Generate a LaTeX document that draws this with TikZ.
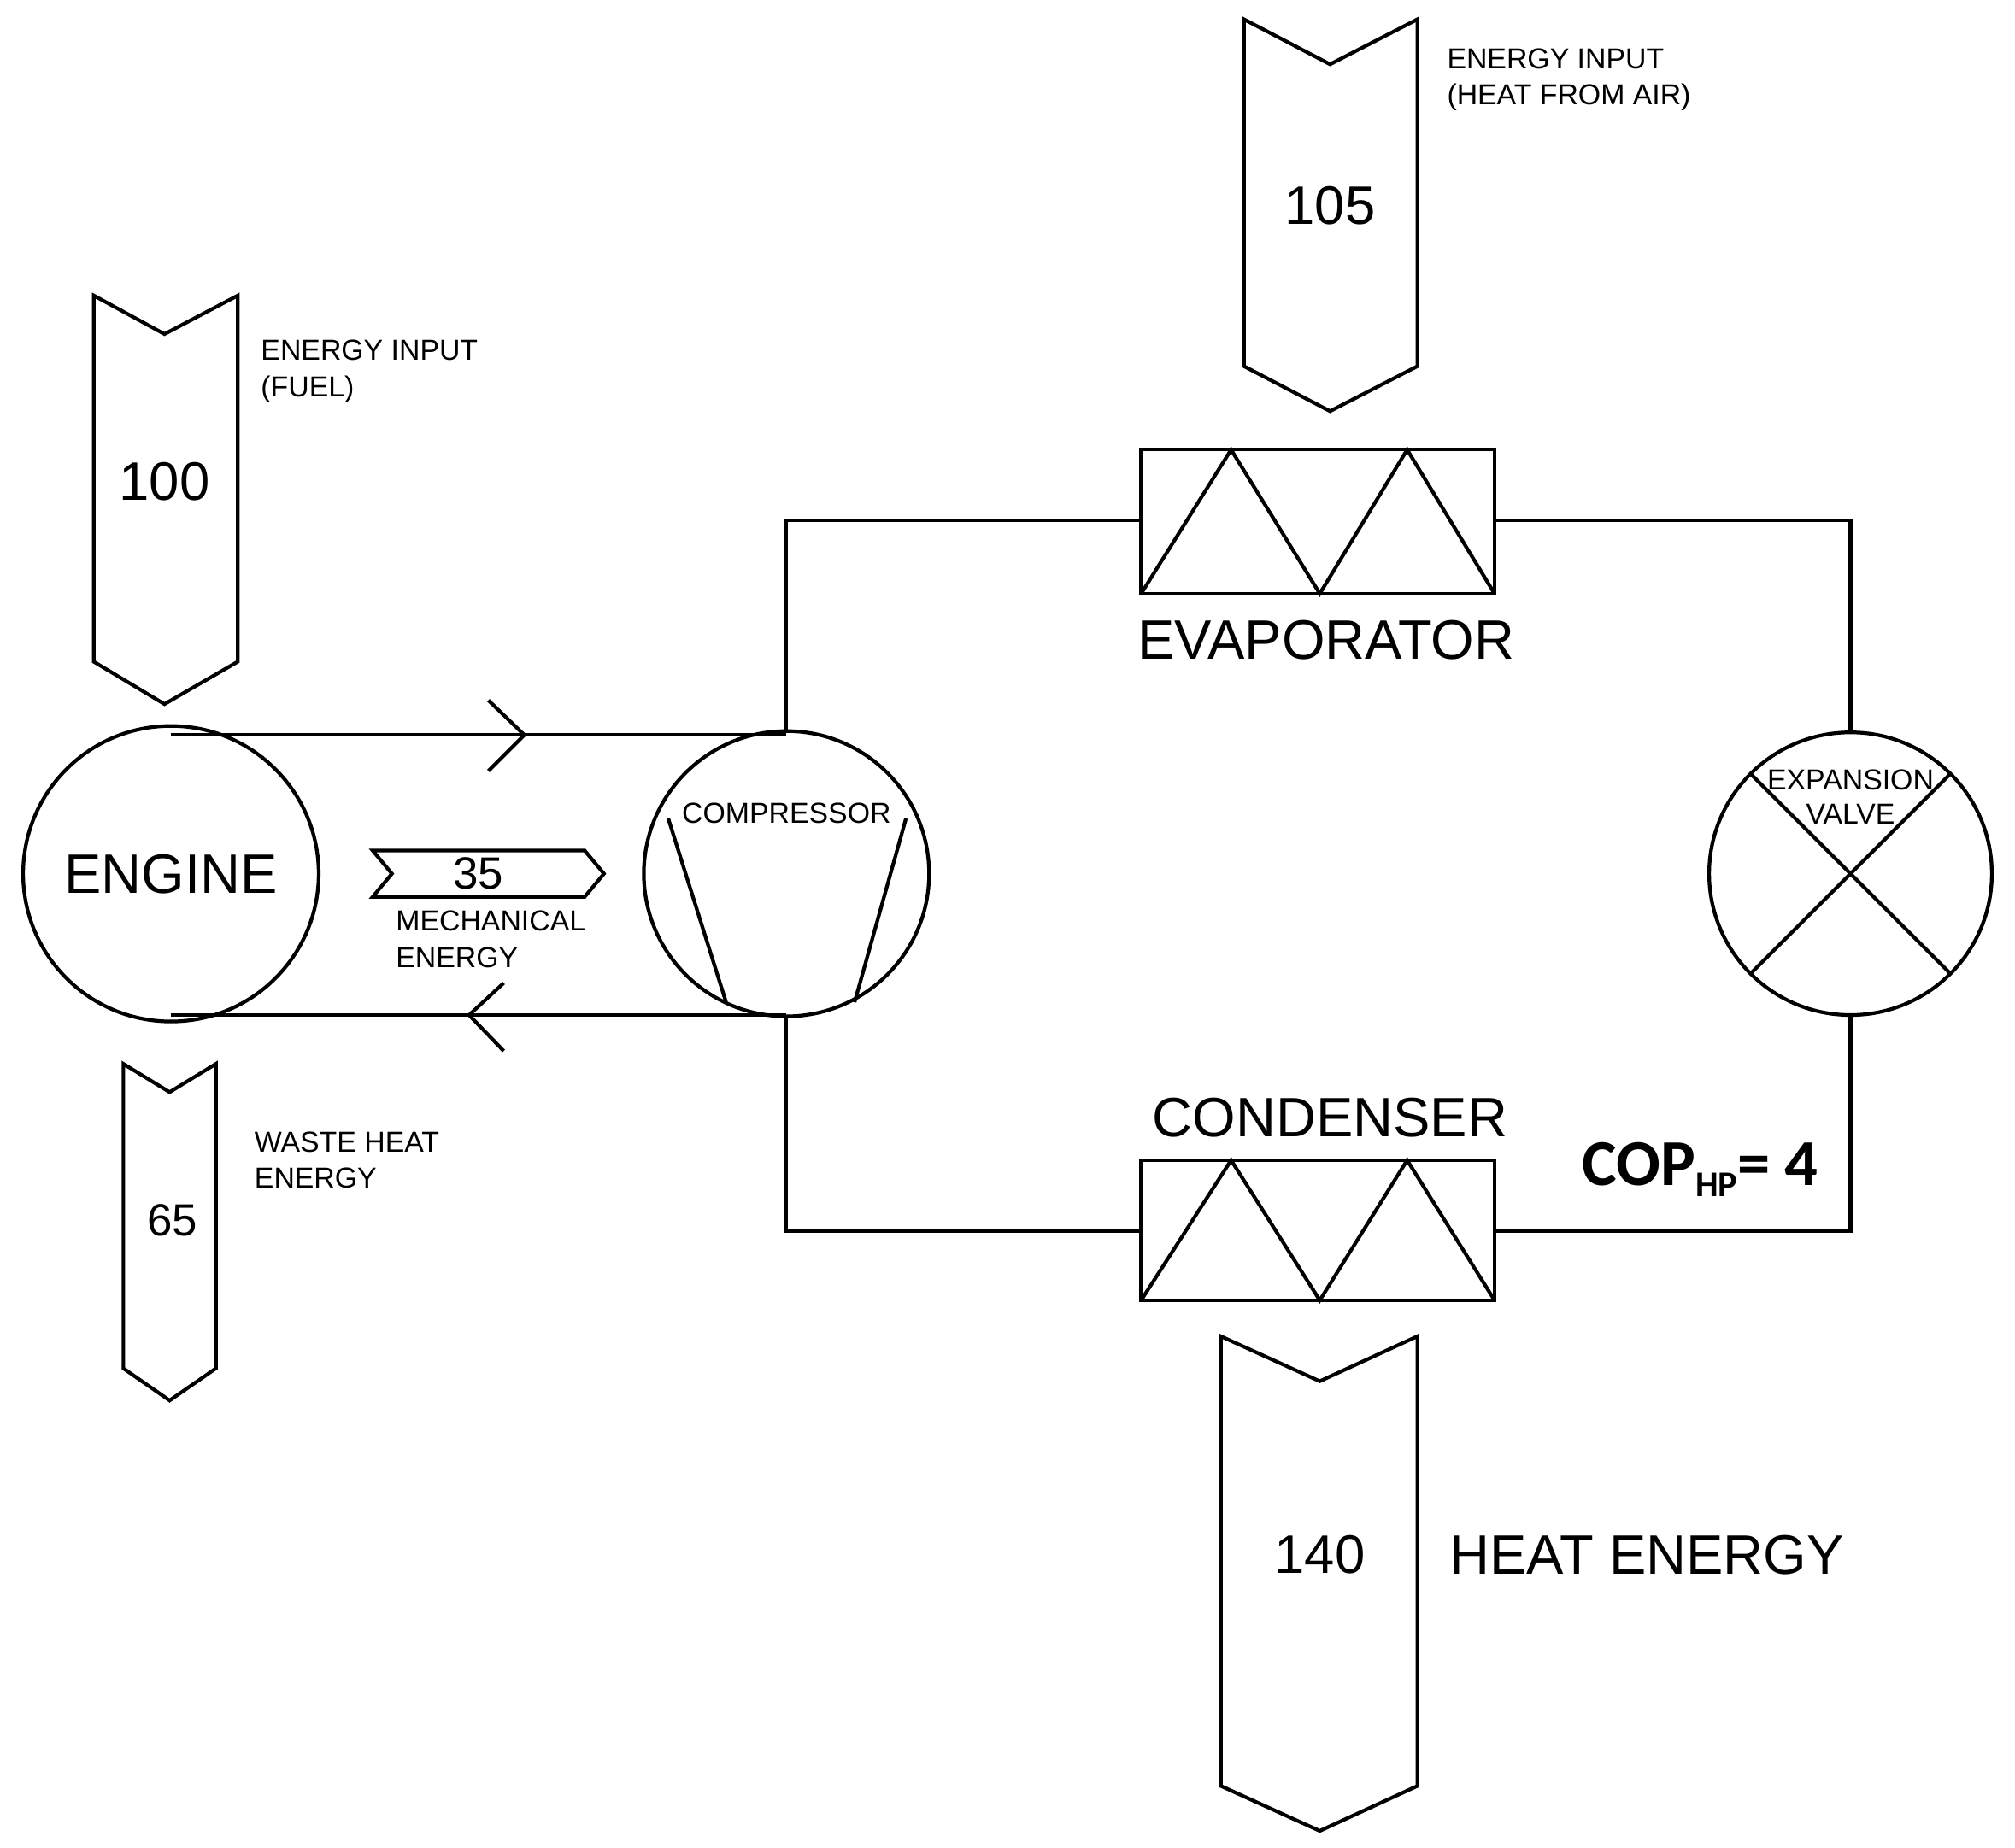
\documentclass[tikz,border=0pt]{standalone}
\usepackage{fontspec}
\setmainfont{Liberation Sans}
\newfontfamily\cop{Carlito}
\begin{document}
\begin{tikzpicture}[x=0.1mm,y=-0.1mm,line width=0.8pt,
  small/.style={font=\fontsize{6.4}{8}\selectfont,align=left,anchor=west},
  big/.style={font=\fontsize{12.3}{14}\selectfont},
  num/.style={font=\fontsize{12}{14}\selectfont},
  ring/.style={circle,draw,inner sep=0,line width=0.8pt}]
\useasboundingbox (0,0) rectangle (1568,1438);
% arrows
\draw (73,230)--(128,260)--(185,230)--(185,515)--(128,548)--(73,515)--cycle;
\node[num] (n100) at (128,375) {100};
\node[small] (l100) at (190,289) {ENERGY INPUT\\(FUEL)};
\draw (968,15)--(1035,50)--(1103,15)--(1103,285)--(1035,320)--(968,285)--cycle;
\node[num] (n105) at (1035,160) {105};
\node[small] (l105) at (1113,62) {ENERGY INPUT\\(HEAT FROM AIR)};
\draw (96,828)--(132,850)--(168,828)--(168,1065)--(132,1090)--(96,1065)--cycle;
\node[font=\fontsize{10}{12}\selectfont] (n65) at (134,950) {65};
\node[small] (l65) at (185,903) {WASTE HEAT\\ENERGY};
\draw (950,1040)--(1027,1075)--(1103,1040)--(1103,1390)--(1027,1425)--(950,1390)--cycle;
\node[num] (n140) at (1027,1210) {140};
\node[big,anchor=west] (lheat) at (1115,1210) {HEAT ENERGY};
% engine & compressor
\node[ring,minimum size=23mm] (eng) at (133,680) {};
\node[big] at (133,680) {ENGINE};
\node[ring,minimum size=22.2mm] (comp) at (612,680) {};
\node[font=\fontsize{6.4}{8}\selectfont] (lcomp) at (612,633) {COMPRESSOR};
\draw (520,637)--(565,780) (705,637)--(665,780);
\draw (133,572)--(612,572) (133,790)--(612,790);
\draw (380,545)--(408,572)--(380,600);
\draw (392,765)--(365,790)--(392,818);
\draw (290,662)--(455,662)--(470,680)--(455,698)--(290,698)--(305,680)--cycle;
\node[font=\fontsize{10}{12}\selectfont] (n35) at (372,680) {35};
\node[small] (l35) at (295,731) {MECHANICAL\\ENERGY};
% evaporator
\draw (888,350) rectangle (1163,462);
\draw (888,462)--(958,350)--(1027,462)--(1095,350)--(1163,462);
\node[big] (levap) at (1032,498) {EVAPORATOR};
% condenser
\draw (888,903) rectangle (1163,1012);
\draw (888,1012)--(958,903)--(1027,1012)--(1095,903)--(1163,1012);
\node[big] (lcond) at (1035,870) {CONDENSER};
% valve
\node[ring,minimum size=22mm] (valve) at (1440,680) {};
\draw (1362,602)--(1518,758) (1518,602)--(1362,758);
\node[font=\fontsize{6.4}{7.6}\selectfont,align=center] (lval) at (1440,620) {EXPANSION\\VALVE};
% loop
\draw (612,569)--(612,405)--(888,405);
\draw (1163,405)--(1440,405)--(1440,570);
\draw (1440,790)--(1440,958)--(1163,958);
\draw (888,958)--(612,958)--(612,791);
\node[font=\cop\bfseries\fontsize{14.5}{17}\selectfont] (cop) at (1323,910) {COP\raisebox{-0.35ex}{\fontsize{8}{9}\selectfont HP}= 4};
\end{tikzpicture}
\end{document}
